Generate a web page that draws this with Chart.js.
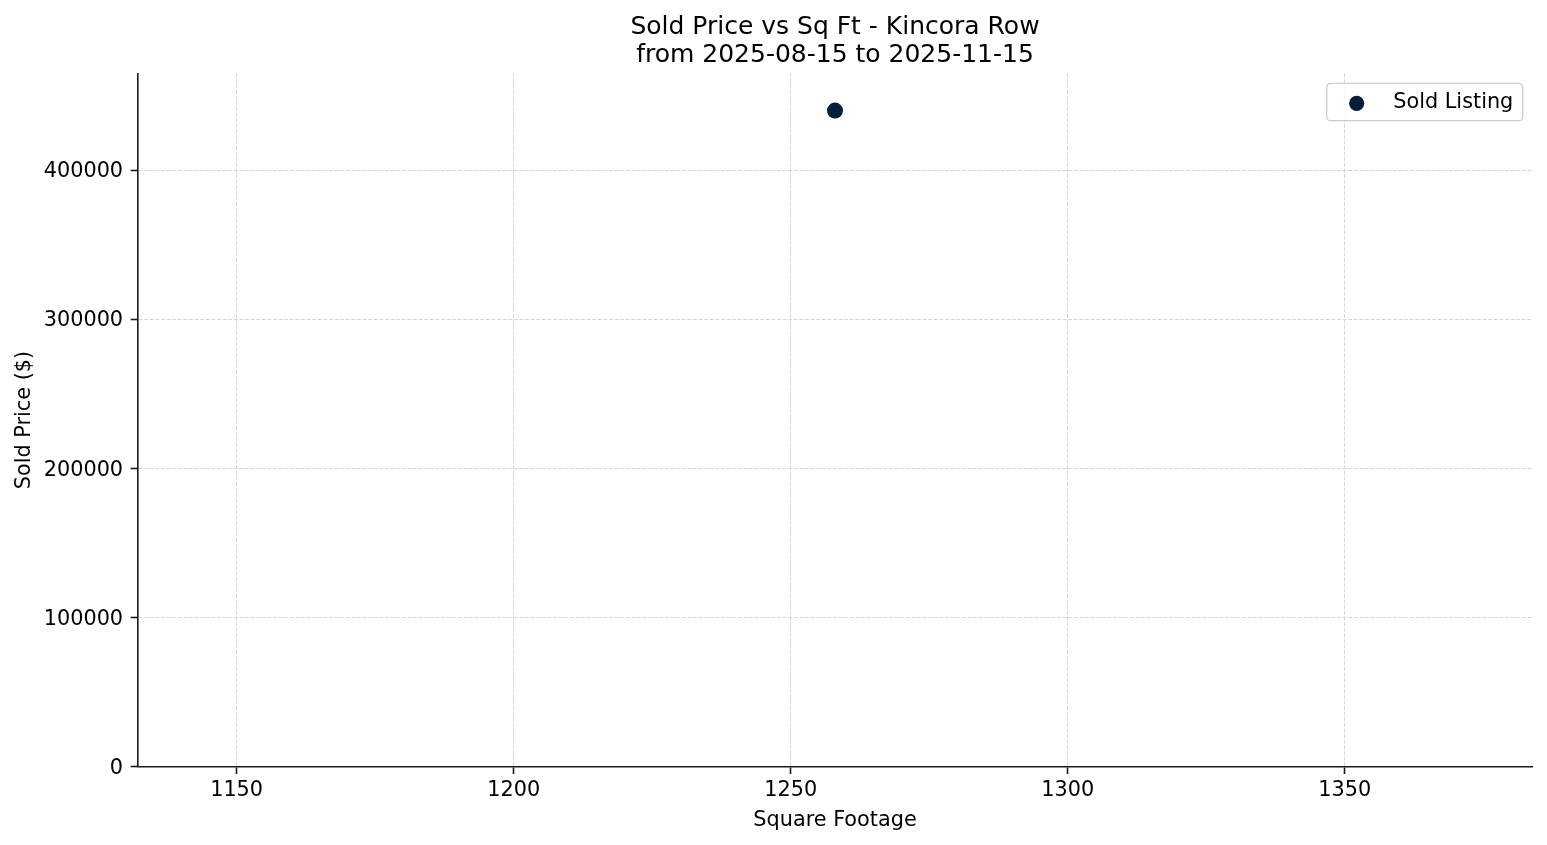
<!DOCTYPE html>
<html><head><meta charset="utf-8">
<script src="https://cdn.jsdelivr.net/npm/chart.js@4.4.1/dist/chart.umd.min.js"></script>
<style>html,body{margin:0;padding:0;background:#fff}#wrap{width:1547px;height:845px;position:relative}</style>
</head><body><div id="wrap"><canvas id="c"></canvas></div>
<script>
const titleLines = ['Sold Price vs Sq Ft - Kincora Row', 'from 2025-08-15 to 2025-11-15'];
const seriesLabel = 'Sold Listing';
const sqft = [1258];
const soldPrice = [440000];
const xTicks = [1150, 1200, 1250, 1300, 1350];
const xTickLabels = ['1150', '1200', '1250', '1300', '1350'];
const yTicks = [0, 100000, 200000, 300000, 400000];
const yTickLabels = ['0', '100000', '200000', '300000', '400000'];
const xRange = [1132.2, 1383.8];
const yRange = [0, 465000];
const xTitle = 'Square Footage';
const yTitle = 'Sold Price ($)';

const FONT = '"DejaVu Sans", "Liberation Sans", sans-serif';
const pointColor = '#041e3c';
const gridColor = '#d6d6d6';
const spineColor = '#1a1a1a';

const boxLegend = {
  id: 'boxLegend',
  afterDatasetsDraw(chart) {
    const ds = chart.data.datasets[0];
    const ctx = chart.ctx;
    const a = chart.chartArea;
    ctx.save();
    ctx.font = '20.8px ' + FONT;
    const tw = ctx.measureText(ds.label).width;
    const w = 66.6 + tw + 9.4;
    const h = 37.4;
    const x = a.right - 9.3 - w;
    const y = a.top + 10;
    ctx.beginPath();
    ctx.roundRect(x, y, w, h, 4);
    ctx.fillStyle = 'rgba(255,255,255,0.8)';
    ctx.fill();
    ctx.lineWidth = 1.3;
    ctx.strokeStyle = '#cccccc';
    ctx.stroke();
    ctx.beginPath();
    ctx.arc(x + 30, y + 20, 7.6, 0, Math.PI * 2);
    ctx.fillStyle = ds.backgroundColor;
    ctx.fill();
    ctx.fillStyle = '#000';
    ctx.textBaseline = 'middle';
    ctx.textAlign = 'left';
    ctx.fillText(ds.label, x + 66.6, y + 19.8);
    ctx.restore();
  }
};

new Chart(document.getElementById('c'), {
  type: 'scatter',
  data: {
    datasets: [{
      label: seriesLabel,
      data: sqft.map((v, i) => ({ x: v, y: soldPrice[i] })),
      backgroundColor: pointColor,
      borderColor: pointColor,
      borderWidth: 0,
      pointRadius: 8,
      pointHoverRadius: 8
    }]
  },
  options: {
    responsive: true,
    maintainAspectRatio: false,
    animation: false,
    devicePixelRatio: 1,
    layout: { padding: { left: 0, right: 15, top: 0, bottom: 0 } },
    plugins: {
      legend: { display: false },
      tooltip: { enabled: false },
      title: {
        display: true,
        text: titleLines,
        fullSize: false,
        color: '#000',
        font: { family: FONT, size: 25, weight: 'normal', lineHeight: 1.12 },
        padding: { top: 13.8, bottom: 3.5 }
      }
    },
    scales: {
      x: {
        type: 'linear',
        min: xRange[0],
        max: xRange[1],
        afterBuildTicks: (s) => { s.ticks = xTicks.map(v => ({ value: v })); },
        afterFit: (s) => { s.height = 78.3; },
        ticks: {
          color: '#000',
          font: { family: FONT, size: 20.8 },
          padding: 4.6,
          maxRotation: 0,
          callback: (v) => xTickLabels[xTicks.indexOf(v)]
        },
        grid: {
          color: gridColor,
          lineWidth: 1,
          tickLength: 7.3,
          tickColor: spineColor,
          tickWidth: 1.6,
          tickBorderDash: []
        },
        border: { display: true, color: spineColor, width: 1.6, dash: [3.9, 1.7] },
        title: {
          display: true,
          text: xTitle,
          color: '#000',
          font: { family: FONT, size: 20.8 },
          padding: { top: 0, bottom: 12.2 }
        }
      },
      y: {
        type: 'linear',
        min: yRange[0],
        max: yRange[1],
        afterBuildTicks: (s) => { s.ticks = yTicks.map(v => ({ value: v })); },
        afterFit: (s) => { s.width = 138.0; },
        ticks: {
          color: '#000',
          font: { family: FONT, size: 20.8 },
          padding: 7.6,
          labelOffset: 1.7,
          callback: (v) => yTickLabels[yTicks.indexOf(v)]
        },
        grid: {
          color: gridColor,
          lineWidth: 1,
          tickLength: 7.3,
          tickColor: spineColor,
          tickWidth: 1.6,
          tickBorderDash: []
        },
        border: { display: true, color: spineColor, width: 1.6, dash: [3.9, 1.7] },
        title: {
          display: true,
          text: yTitle,
          color: '#000',
          font: { family: FONT, size: 20.8 },
          padding: { top: 12.2, bottom: 0 }
        }
      }
    }
  },
  plugins: [boxLegend]
});
</script>
</body></html>
